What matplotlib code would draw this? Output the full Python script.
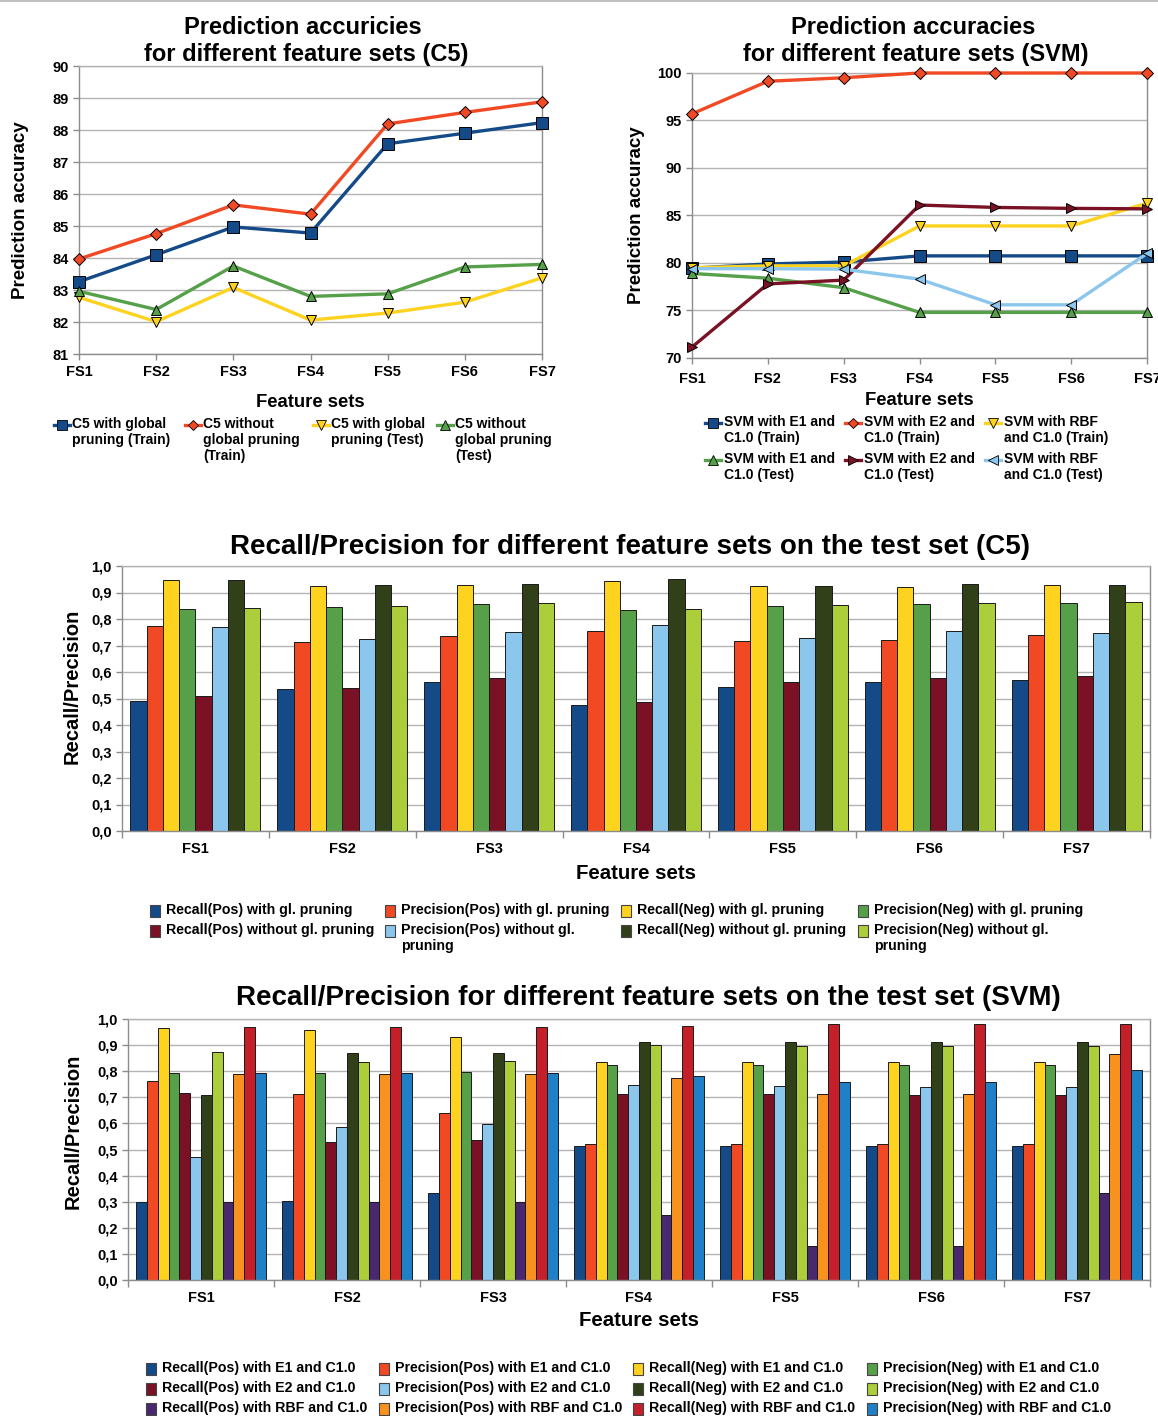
import numpy as np
import matplotlib.pyplot as plt
from matplotlib.ticker import FuncFormatter, MultipleLocator
from matplotlib.patches import Rectangle
from matplotlib.lines import Line2D

plt.rcParams['font.family'] = ['Liberation Sans', 'DejaVu Sans']
plt.rcParams['font.weight'] = 'bold'

feature_sets = ["FS1", "FS2", "FS3", "FS4", "FS5", "FS6", "FS7"]

# C5 line chart
c5_labels = ["C5 with global\npruning (Train)", "C5 without\nglobal pruning\n(Train)",
             "C5 with global\npruning (Test)", "C5 without\nglobal pruning\n(Test)"]
c5_glob_train = [83.26, 84.10, 84.97, 84.78, 87.57, 87.90, 88.23]
c5_noglob_train = [83.97, 84.76, 85.66, 85.37, 88.19, 88.55, 88.88]
c5_glob_test = [82.77, 82.01, 83.08, 82.06, 82.28, 82.62, 83.38]
c5_noglob_test = [82.96, 82.39, 83.75, 82.80, 82.88, 83.72, 83.80]

# SVM line chart
svm_labels = ["SVM with E1 and\nC1.0 (Train)", "SVM with E2 and\nC1.0 (Train)", "SVM with RBF\nand C1.0 (Train)",
              "SVM with E1 and\nC1.0 (Test)", "SVM with E2 and\nC1.0 (Test)", "SVM with RBF\nand C1.0 (Test)"]
svm_e1_train = [79.45, 79.9, 80.1, 80.75, 80.75, 80.75, 80.75]
svm_e2_train = [95.7, 99.13, 99.5, 100, 100, 100, 100]
svm_rbf_train = [79.5, 79.7, 79.7, 83.9, 83.9, 83.9, 86.3]
svm_e1_test = [78.9, 78.4, 77.4, 74.8, 74.8, 74.8, 74.8]
svm_e2_test = [71.15, 77.8, 78.2, 86.1, 85.85, 85.75, 85.7]
svm_rbf_test = [79.4, 79.4, 79.35, 78.3, 75.6, 75.6, 81.0]

# C5 recall / precision bars
c5_bar_labels = ["Recall(Pos) with gl. pruning", "Precision(Pos) with gl. pruning",
                 "Recall(Neg) with gl. pruning", "Precision(Neg) with gl. pruning",
                 "Recall(Pos) without gl. pruning", "Precision(Pos) without gl.\npruning",
                 "Recall(Neg) without gl. pruning", "Precision(Neg) without gl.\npruning"]
c5_rec_pos_gl = [0.492, 0.535, 0.564, 0.477, 0.545, 0.564, 0.571]
c5_prec_pos_gl = [0.774, 0.713, 0.735, 0.755, 0.717, 0.720, 0.741]
c5_rec_neg_gl = [0.948, 0.923, 0.928, 0.945, 0.923, 0.921, 0.930]
c5_prec_neg_gl = [0.839, 0.847, 0.855, 0.834, 0.849, 0.857, 0.859]
c5_rec_pos_nogl = [0.508, 0.541, 0.579, 0.488, 0.561, 0.576, 0.586]
c5_prec_pos_nogl = [0.771, 0.726, 0.751, 0.777, 0.730, 0.753, 0.748]
c5_rec_neg_nogl = [0.948, 0.927, 0.932, 0.952, 0.926, 0.932, 0.930]
c5_prec_neg_nogl = [0.843, 0.848, 0.862, 0.839, 0.854, 0.859, 0.863]

# SVM recall / precision bars
svm_bar_labels = ["Recall(Pos) with E1 and C1.0", "Precision(Pos) with E1 and C1.0",
                  "Recall(Neg) with E1 and C1.0", "Precision(Neg) with E1 and C1.0",
                  "Recall(Pos) with E2 and C1.0", "Precision(Pos) with E2 and C1.0",
                  "Recall(Neg) with E2 and C1.0", "Precision(Neg) with E2 and C1.0",
                  "Recall(Pos) with RBF and C1.0", "Precision(Pos) with RBF and C1.0",
                  "Recall(Neg) with RBF and C1.0", "Precision(Neg) with RBF and C1.0"]
svm_rec_pos_e1 = [0.297, 0.303, 0.334, 0.512, 0.512, 0.512, 0.512]
svm_prec_pos_e1 = [0.761, 0.712, 0.638, 0.522, 0.522, 0.522, 0.522]
svm_rec_neg_e1 = [0.965, 0.957, 0.932, 0.834, 0.834, 0.834, 0.834]
svm_prec_neg_e1 = [0.794, 0.794, 0.797, 0.825, 0.825, 0.825, 0.825]
svm_rec_pos_e2 = [0.715, 0.528, 0.536, 0.714, 0.711, 0.707, 0.707]
svm_prec_pos_e2 = [0.471, 0.588, 0.597, 0.747, 0.742, 0.740, 0.739]
svm_rec_neg_e2 = [0.710, 0.868, 0.871, 0.913, 0.910, 0.910, 0.910]
svm_prec_neg_e2 = [0.873, 0.836, 0.839, 0.900, 0.898, 0.898, 0.898]
svm_rec_pos_rbf = [0.298, 0.298, 0.298, 0.249, 0.129, 0.129, 0.332]
svm_prec_pos_rbf = [0.788, 0.788, 0.788, 0.775, 0.711, 0.711, 0.866]
svm_rec_neg_rbf = [0.971, 0.971, 0.971, 0.974, 0.981, 0.981, 0.981]
svm_prec_neg_rbf = [0.794, 0.794, 0.794, 0.781, 0.758, 0.758, 0.803]

palette = ["#134a87", "#f04924", "#fdd31f", "#56a04a", "#7b1125", "#8bc6ec",
           "#314019", "#acce3a", "#4a2870", "#f7921e", "#c5202a", "#1f80c5"]

W, H = 1158, 1416
fig = plt.figure(figsize=(W / 100, H / 100), dpi=100)

GRID = "#b3b3b3"
SPINE = "#8c8c8c"


def frac(l, t, r, b):
    return [l / W, 1 - b / H, (r - l) / W, (b - t) / H]


def fx(px):
    return px / W


def fy(py):
    return 1 - py / H


def style_axes(ax):
    ax.grid(axis='y', color=GRID, lw=1.0)
    ax.set_axisbelow(True)
    for s in ax.spines.values():
        s.set_color(SPINE)
        s.set_linewidth(1.0)
    ax.spines['top'].set_color(GRID)
    ax.tick_params(axis='both', colors=SPINE, labelcolor='black', labelsize=10.5, width=1.0, length=4)


def line_chart(rect, series, colors, markers, msizes, ylim, ystep, ylabel_x, xlabel_y, xpad):
    ax = fig.add_axes(rect)
    x = np.arange(len(feature_sets))
    for vals, c, m, ms in zip(series, colors, markers, msizes):
        ax.plot(x, vals, color=c, lw=2.4, marker=m, ms=ms, mec='black', mew=0.7, clip_on=False, zorder=3)
    ax.set_xlim(0, len(feature_sets) - 1)
    ax.set_ylim(*ylim)
    ax.yaxis.set_major_locator(MultipleLocator(ystep))
    ax.set_xticks(x)
    ax.set_xticklabels(feature_sets)
    style_axes(ax)
    ax.tick_params(axis='x', pad=xpad)
    ax.set_ylabel("Prediction accuracy", fontsize=13.5, fontweight='bold')
    ax.yaxis.set_label_coords(ylabel_x, 0.5)
    ax.set_xlabel("Feature sets", fontsize=13.3, fontweight='bold')
    ax.xaxis.set_label_coords(0.5, xlabel_y)
    return ax


def line_legend(entries, fontsize=10):
    # entries: (color, marker, ms, label, handle_x0, text_x, y_first_line)
    for c, m, ms, label, hx, tx, y in entries:
        fig.add_artist(Line2D([fx(hx), fx(hx + 8), fx(hx + 16)], [fy(y)] * 3, color=c, lw=2.4,
                              marker=m, ms=ms, mec='black', mew=0.6, markevery=[1]))
        fig.text(fx(tx), fy(y - 8), label, ha='left', va='top', fontsize=fontsize,
                 fontweight='bold', linespacing=1.2)


def box_legend(entries, font):
    # entries: (color, label, box_x, text_x, y_first_line)
    for c, label, bx, tx, y in entries:
        fig.add_artist(Rectangle((fx(bx), fy(y + 6)), 10 / W, 12 / H, facecolor=c,
                                 edgecolor='#444444', lw=0.8, transform=fig.transFigure))
        fig.text(fx(tx), fy(y - 8), label, ha='left', va='top', fontproperties=font, linespacing=1.15)


# --- top left: C5 ---
c5_colors = [palette[0], palette[1], palette[2], palette[3]]
c5_markers = ['s', 'D', 'v', '^']
c5_ms = [8, 6, 7.5, 7.5]
line_chart(frac(79, 66, 542, 354), [c5_glob_train, c5_noglob_train, c5_glob_test, c5_noglob_test],
           c5_colors, c5_markers, c5_ms, (81, 90), 1, -0.108, -0.138, 4)
fig.text(fx(303), fy(27), "Prediction accuricies", ha='center', va='center', fontsize=17, fontweight='bold')
fig.text(fx(306), fy(55), "for different feature sets (C5)", ha='center', va='center', fontsize=17,
         fontweight='bold')
hx = [54, 185, 313, 437]
line_legend([(c5_colors[i], c5_markers[i], c5_ms[i] - 1, c5_labels[i], hx[i], hx[i] + 18, 425)
             for i in range(4)])

# --- top right: SVM ---
svm_colors = [palette[0], palette[1], palette[2], palette[3], palette[4], palette[5]]
svm_markers = ['s', 'D', 'v', '^', '>', '<']
svm_ms = [8, 6, 7.5, 7.5, 7.5, 7.5]
line_chart(frac(692, 73, 1147, 358),
           [svm_e1_train, svm_e2_train, svm_rbf_train, svm_e1_test, svm_e2_test, svm_rbf_test],
           svm_colors, svm_markers, svm_ms, (70, 100), 5, -0.103, -0.12, 6)
fig.text(fx(913), fy(27), "Prediction accuracies", ha='center', va='center', fontsize=17, fontweight='bold')
fig.text(fx(916), fy(55), "for different feature sets (SVM)", ha='center', va='center', fontsize=17,
         fontweight='bold')
hx = [705, 845, 985]
hy = [423, 460]
line_legend([(svm_colors[i], svm_markers[i], svm_ms[i] - 1, svm_labels[i], hx[i % 3], hx[i % 3] + 19,
              hy[i // 3]) for i in range(6)])


def bar_chart(rect, series, colors, group_frac, title, title_xy, ylabel_xy, xlabel_y):
    ax = fig.add_axes(rect)
    n = len(series)
    x = np.arange(len(feature_sets))
    bw = group_frac / n
    for i, (vals, c) in enumerate(zip(series, colors)):
        ax.bar(x - group_frac / 2 + bw * (i + 0.5), vals, width=bw, color=c,
               edgecolor='#1a1a1a', linewidth=0.7, zorder=2)
    ax.set_xlim(-0.5, len(feature_sets) - 0.5)
    ax.set_ylim(0, 1.0)
    ax.yaxis.set_major_locator(MultipleLocator(0.1))
    ax.yaxis.set_major_formatter(FuncFormatter(lambda v, p: f"{v:.1f}".replace('.', ',')))
    ax.set_xticks(x)
    ax.set_xticklabels(feature_sets)
    ax.set_xticks(np.arange(-0.5, len(feature_sets)), minor=True)
    style_axes(ax)
    ax.tick_params(axis='x', which='major', length=0, pad=8)
    ax.tick_params(axis='x', which='minor', length=5, colors=SPINE, width=1.0)
    ax.set_ylabel("Recall/Precision", fontsize=14.5, fontweight='bold')
    ax.yaxis.set_label_coords(*ylabel_xy)
    ax.set_xlabel("Feature sets", fontsize=14.7, fontweight='bold')
    ax.xaxis.set_label_coords(0.5, xlabel_y)
    fig.text(fx(title_xy[0]), fy(title_xy[1]), title, ha='center', va='center',
             fontsize=20, fontweight='bold')
    return ax


legend_font = {'family': ['Liberation Sans Narrow', 'Liberation Sans'], 'weight': 'bold', 'size': 10.2}

# --- middle: C5 bars ---
c5_series = [c5_rec_pos_gl, c5_prec_pos_gl, c5_rec_neg_gl, c5_prec_neg_gl,
             c5_rec_pos_nogl, c5_prec_pos_nogl, c5_rec_neg_nogl, c5_prec_neg_nogl]
bar_chart(frac(122, 566, 1150, 831), c5_series, palette[:8], 0.885,
          "Recall/Precision for different feature sets on the test set (C5)", (630, 547),
          (-0.039, 0.545), -0.125)
bx = [150, 385, 621, 858]
by = [911, 931]
box_legend([(palette[i], c5_bar_labels[i], bx[i % 4], bx[i % 4] + 16, by[i // 4]) for i in range(8)],
           legend_font)

# --- bottom: SVM bars ---
svm_series = [svm_rec_pos_e1, svm_prec_pos_e1, svm_rec_neg_e1, svm_prec_neg_e1,
              svm_rec_pos_e2, svm_prec_pos_e2, svm_rec_neg_e2, svm_prec_neg_e2,
              svm_rec_pos_rbf, svm_prec_pos_rbf, svm_rec_neg_rbf, svm_prec_neg_rbf]
bar_chart(frac(128, 1019, 1150, 1280), svm_series, palette, 0.885,
          "Recall/Precision for different feature sets on the test set (SVM)", (648, 998),
          (-0.044, 0.57), -0.118)
bx = [146, 379, 633, 867]
by = [1369, 1389, 1409]
box_legend([(palette[i], svm_bar_labels[i], bx[i % 4], bx[i % 4] + 16, by[i // 4]) for i in range(12)],
           legend_font)

fig.add_artist(Line2D([0, 1], [1 - 1 / H, 1 - 1 / H], color='#c0c0c0', lw=1.5))

fig.savefig("out.png", dpi=100)
